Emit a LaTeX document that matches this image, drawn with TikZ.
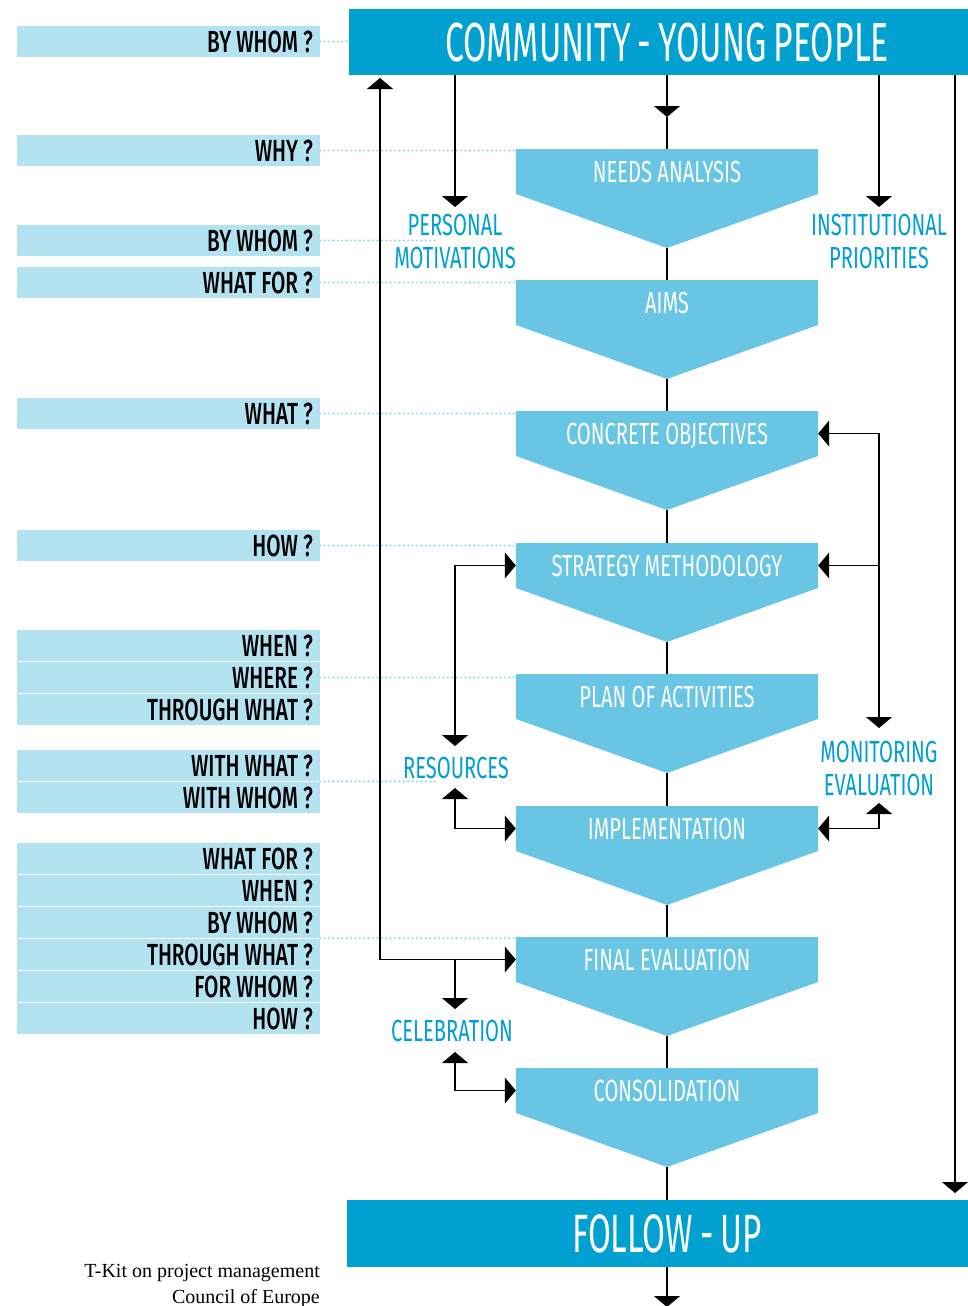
\documentclass[tikz,border=0pt]{standalone}
\usepackage{fontspec}
\setmainfont{Liberation Serif}
\newfontfamily\bannerfont{Fira Sans}[FakeStretch=0.615, WordSpace=0.8]
\newfontfamily\stagefont{Fira Sans}[FakeStretch=0.66]
\newfontfamily\questionfont{Fira Sans}[FakeStretch=0.68, UprightFont=* Medium]
\usetikzlibrary{arrows.meta,calc}

\definecolor{deepblue}{HTML}{00A1D1}
\definecolor{chevblue}{HTML}{68C6E4}
\definecolor{barblue}{HTML}{B3E3F1}
\definecolor{dotblue}{HTML}{9ED7EB}
\definecolor{labelblue}{HTML}{009FD1}

% one stage of the process: a downward chevron with its title
\newcommand\stagebox[3]{%
  \fill[chevblue] (516,#2) -- (818,#2) -- (818,#2+45) -- (667,#2+99) -- (516,#2+45) -- cycle;
  \node[chevbox] (#1) at (667,#2+22.5) {#3};
  \coordinate (#1-tip) at (667,#2+99);
}
% one question bar on the left, its text set flush right
\newcommand\qbar[3]{\node[question] (#1) at (168.5,#2+15.5) {\makebox[289pt][r]{#3}};}

\begin{document}
\begin{tikzpicture}[x=1pt,y=-1pt,
  every node/.style={inner sep=0pt, text depth=0pt},
  >={Triangle[width=26pt,length=11pt]},
  conn/.style={line width=1.2pt, black},
  dotline/.style={dotblue, line width=2.4pt, line cap=round, dash pattern=on 0pt off 4.4pt},
  banner/.style={fill=deepblue, text=white, font=\bannerfont\fontsize{55}{55}\selectfont},
  chevbox/.style={minimum width=302pt, minimum height=45pt, text=white, font=\stagefont\fontsize{30.5}{30.5}\selectfont},
  question/.style={fill=barblue, minimum width=303pt, minimum height=31pt, font=\questionfont\fontsize{30.5}{30.5}\selectfont},
  side/.style={text=labelblue, align=center, font=\stagefont\fontsize{30.5}{32.5}\selectfont},
  credit/.style={font=\fontsize{20}{26}\selectfont}]
\useasboundingbox (0,0) rectangle (968,1306);

% banners
\node[banner, minimum width=636pt, minimum height=66pt] (top) at (667,42) {COMMUNITY - YOUNG PEOPLE};
\node[banner, minimum width=640pt, minimum height=67pt, font=\bannerfont\fontsize{54}{54}\selectfont] (follow) at (667,1233.5) {FOLLOW - UP};

% stages
\stagebox{needs}{149}{NEEDS ANALYSIS}
\stagebox{aims}{280}{AIMS}
\stagebox{objectives}{411}{CONCRETE OBJECTIVES}
\stagebox{strategy}{543}{STRATEGY METHODOLOGY}
\stagebox{plan}{674}{PLAN OF ACTIVITIES}
\stagebox{impl}{806}{IMPLEMENTATION}
\stagebox{final}{937}{FINAL EVALUATION}
\stagebox{cons}{1068}{CONSOLIDATION}

% question bars
\qbar{q1}{26}{BY WHOM ?}
\qbar{q2}{135}{WHY ?}
\qbar{q3}{225}{BY WHOM ?}
\qbar{q4}{267}{WHAT FOR ?}
\qbar{q5}{398}{WHAT ?}
\qbar{q6}{530}{HOW ?}
\qbar{q7}{630}{WHEN ?}
\qbar{q8}{662}{WHERE ?}
\qbar{q9}{694}{THROUGH WHAT ?}
\qbar{q10}{750}{WITH WHAT ?}
\qbar{q11}{782}{WITH WHOM ?}
\qbar{q12}{843}{WHAT FOR ?}
\qbar{q13}{875}{WHEN ?}
\qbar{q14}{907}{BY WHOM ?}
\qbar{q15}{939}{THROUGH WHAT ?}
\qbar{q16}{971}{FOR WHOM ?}
\qbar{q17}{1003}{HOW ?}

% side labels
\node[side] (pm) at (455,241.5) {PERSONAL\\MOTIVATIONS};
\node[side] (ip) at (879,241.5) {INSTITUTIONAL\\PRIORITIES};
\node[side] (res) at (456,768) {RESOURCES};
\node[side] (mon) at (879,768.5) {MONITORING\\EVALUATION};
\node[side] (cel) at (452,1030.5) {CELEBRATION};

% dotted guides from the questions
\coordinate (pmdot) at (437,240.5);
\coordinate (resdot) at (437,781.5);
\draw[dotline] (q1.east) -- (q1.east -| top.west);
\draw[dotline] (q2.east) -- (q2.east -| needs.west);
\draw[dotline] (q3.east) -- (pmdot);
\draw[dotline] (q4.east) -- (q4.east -| aims.west);
\draw[dotline] (q5.east) -- (q5.east -| objectives.west);
\draw[dotline] (q6.east) -- (q6.east -| strategy.west);
\draw[dotline] (q8.east) -- (q8.east -| plan.west);
\draw[dotline] (q10.south east) -- (resdot);
\draw[dotline] (q14.south east) -- (q14.south east -| final.west);

% main flow
\coordinate (mid1) at (667,117);
\coordinate (bottom) at (667,1307);
\draw[conn,->] (top.south) -- (mid1);
\draw[conn] (mid1) -- (needs.north);
\draw[conn] (needs-tip) -- (aims.north);
\draw[conn] (aims-tip) -- (objectives.north);
\draw[conn] (objectives-tip) -- (strategy.north);
\draw[conn] (strategy-tip) -- (plan.north);
\draw[conn] (plan-tip) -- (impl.north);
\draw[conn] (impl-tip) -- (final.north);
\draw[conn] (final-tip) -- (cons.north);
\draw[conn] (cons-tip) -- (follow.north);
\draw[conn,->] (follow.south) -- (bottom);

% influences from the community
\coordinate (pmtip) at (455,207);
\coordinate (iptip) at (879,207);
\coordinate (railtip) at (955,1193);
\draw[conn,->] (top.south -| pmtip) -- (pmtip);
\draw[conn,->] (top.south -| iptip) -- (iptip);
\draw[conn,->] (top.south -| railtip) -- (railtip);

% feedback from final evaluation to the community
\coordinate (backtip) at (380,78);
\draw[conn,<->] (backtip) -- (backtip |- final.west) -- (final.west);

% celebration
\coordinate (celdown) at (455,1009);
\coordinate (celup) at (455,1052);
\draw[conn,->] (celdown |- final.west) -- (celdown);
\draw[conn,<->] (celup) -- (celup |- cons.west) -- (cons.west);

% resources
\coordinate (resdown) at (455,746);
\coordinate (resup) at (455,788);
\draw[conn,<->] (strategy.west) -- (strategy.west -| resdown) -- (resdown);
\draw[conn,<->] (resup) -- (resup |- impl.west) -- (impl.west);

% monitoring and evaluation
\coordinate (mondown) at (879,728);
\coordinate (monup) at (879,803);
\draw[conn,<->] (objectives.east) -- (objectives.east -| mondown) -- (mondown);
\draw[conn,->] (strategy.east -| mondown) -- (strategy.east);
\draw[conn,<->] (monup) -- (monup |- impl.east) -- (impl.east);

% source
\node[credit, anchor=base east] (src1) at (320,1277) {T-Kit on project management};
\node[credit, anchor=base east] (src2) at (320,1303) {Council of Europe};
\end{tikzpicture}
\end{document}
